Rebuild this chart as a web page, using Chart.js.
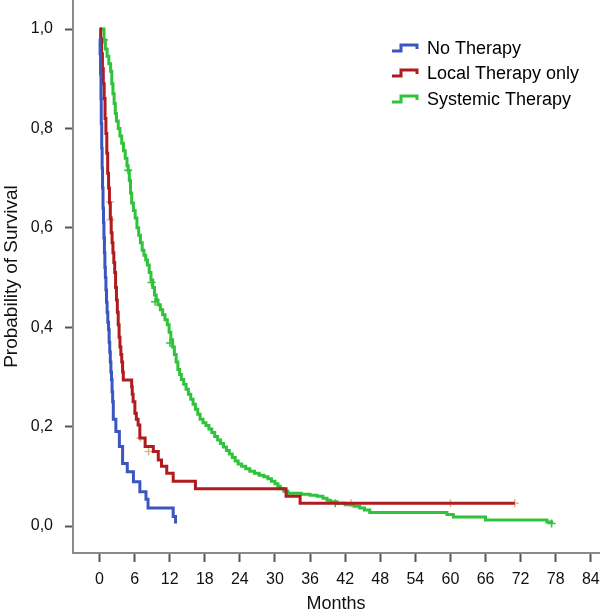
<!DOCTYPE html>
<html>
<head>
<meta charset="utf-8">
<script src="https://cdn.jsdelivr.net/npm/chart.js@4/dist/chart.umd.min.js"></script>
<style>
  html, body { margin: 0; padding: 0; background: #ffffff; }
  #wrap { width: 600px; height: 615px; }
</style>
</head>
<body>
<div id="wrap"><canvas id="c" width="600" height="615"></canvas></div>
<script>
// ---- data ----
const seriesNames = ["No Therapy", "Local Therapy only", "Systemic Therapy"];

const noTherapyMonths = [0, 0.1, 0.18, 0.25, 0.3, 0.38, 0.45, 0.52, 0.6, 0.68, 0.76, 0.84, 0.92, 1.0, 1.1, 1.2, 1.3, 1.42, 1.55, 1.65, 1.75, 1.85, 1.95, 2.05, 2.15, 2.25, 2.36, 2.8, 3.4, 3.95, 4.75, 5.8, 6.9, 7.95, 8.3, 12.6, 13.0];
const noTherapySurv   = [0.98, 0.95, 0.91, 0.86, 0.81, 0.76, 0.72, 0.68, 0.64, 0.61, 0.58, 0.55, 0.52, 0.50, 0.475, 0.45, 0.43, 0.41, 0.395, 0.37, 0.35, 0.33, 0.31, 0.295, 0.27, 0.25, 0.215, 0.19, 0.16, 0.126, 0.109, 0.089, 0.069, 0.054, 0.036, 0.019, 0.005];

const localMonths = [0, 0.2, 0.35, 0.5, 0.65, 0.8, 0.95, 1.1, 1.25, 1.4, 1.55, 1.7, 1.85, 2.0, 2.15, 2.3, 2.45, 2.6, 2.75, 2.9, 3.05, 3.2, 3.35, 3.5, 3.65, 3.8, 3.95, 4.07, 5.5, 5.6, 5.75, 6.05, 6.3, 6.6, 6.9, 7.8, 9.2, 10.05, 10.6, 11.5, 12.6, 16.4, 31.9, 34.3, 71];
const localSurv   = [1.0, 0.98, 0.95, 0.92, 0.89, 0.86, 0.82, 0.79, 0.75, 0.71, 0.68, 0.65, 0.62, 0.59, 0.57, 0.55, 0.53, 0.51, 0.48, 0.455, 0.43, 0.405, 0.38, 0.36, 0.345, 0.33, 0.31, 0.294, 0.28, 0.265, 0.25, 0.227, 0.215, 0.203, 0.177, 0.16, 0.15, 0.133, 0.12, 0.106, 0.09, 0.075, 0.06, 0.046, 0.046];

const systemicMonths = [0, 0.77, 1.0, 1.3, 1.6, 1.9, 2.1, 2.3, 2.5, 2.7, 2.9, 3.2, 3.5, 3.8, 4.1, 4.4, 4.7, 4.9, 5.1, 5.3, 5.5, 5.8, 6.1, 6.4, 6.7, 7.0, 7.3, 7.6, 7.9, 8.2, 8.5, 8.8, 9.1, 9.4, 9.7, 10.0, 10.4, 10.8, 11.2, 11.6, 11.9, 12.2, 12.5, 12.8, 13.1, 13.4, 13.7, 14.0, 14.4, 14.8, 15.2, 15.6, 16.0, 16.4, 16.8, 17.2, 17.7, 18.2, 18.7, 19.2, 19.7, 20.2, 20.7, 21.2, 21.7, 22.2, 22.7, 23.2, 23.7, 24.3, 25.0, 25.7, 26.5, 27.3, 28.1, 28.8, 29.4, 30.0, 30.5, 30.9, 31.5, 32.2, 34.5, 36.0, 37.2, 38.2, 38.9, 39.5, 40.6, 42.0, 43.5, 44.5, 45.3, 46.2, 59.4, 60.5, 66.0, 76.5, 77.3];
const systemicSurv   = [1.0, 0.978, 0.96, 0.945, 0.93, 0.915, 0.89, 0.87, 0.85, 0.83, 0.815, 0.80, 0.785, 0.77, 0.755, 0.74, 0.725, 0.715, 0.695, 0.67, 0.65, 0.635, 0.62, 0.60, 0.585, 0.57, 0.555, 0.545, 0.535, 0.525, 0.51, 0.495, 0.48, 0.465, 0.455, 0.445, 0.435, 0.425, 0.415, 0.405, 0.39, 0.375, 0.36, 0.345, 0.33, 0.315, 0.305, 0.295, 0.285, 0.275, 0.265, 0.255, 0.245, 0.235, 0.225, 0.215, 0.208, 0.202, 0.195, 0.188, 0.18, 0.173, 0.166, 0.159, 0.152, 0.145, 0.138, 0.131, 0.125, 0.12, 0.115, 0.11, 0.106, 0.102, 0.099, 0.095, 0.09, 0.085, 0.08, 0.075, 0.07, 0.066, 0.064, 0.062, 0.060, 0.056, 0.052, 0.049, 0.046, 0.043, 0.04, 0.036, 0.032, 0.027, 0.023, 0.018, 0.012, 0.008, 0.005];

// censored observations
const localCensorMonths = [1.8, 1.85, 7.0, 8.4, 43, 60, 71];
const localCensorSurv   = [0.652, 0.616, 0.177, 0.15, 0.046, 0.046, 0.046];
const systemicCensorMonths = [0.77, 4.9, 8.9, 9.5, 12.05, 40.3, 77.3];
const systemicCensorSurv   = [0.978, 0.716, 0.49, 0.451, 0.368, 0.046, 0.005];

const xTickValues = [0, 6, 12, 18, 24, 30, 36, 42, 48, 54, 60, 66, 72, 78, 84];
const yTickValues = [0, 0.2, 0.4, 0.6, 0.8, 1.0];

const axisTitleX = "Months";
const axisTitleY = "Probability of Survival";

// ---- build ----
const pts = (xs, ys) => xs.map((x, i) => ({ x: x, y: ys[i] }));
const colors = ["#3a56c0", "#b01b1d", "#2fc23b"];
const FONT = "'Liberation Sans', Arial, Helvetica, sans-serif";

const datasets = [
  { label: seriesNames[0], data: pts(noTherapyMonths, noTherapySurv), borderColor: colors[0] },
  { label: seriesNames[1], data: pts(localMonths, localSurv), borderColor: colors[1] },
  { label: seriesNames[2], data: pts(systemicMonths, systemicSurv), borderColor: colors[2] }
].map(d => Object.assign(d, {
  type: 'line', stepped: 'before', borderWidth: 3, pointRadius: 0, fill: false,
  borderCapStyle: 'butt', borderJoinStyle: 'miter', tension: 0, isLegend: true
}));

datasets.push({
  type: 'scatter', label: 'censor-local', data: pts(localCensorMonths, localCensorSurv),
  pointStyle: 'cross', pointRadius: 4, borderColor: '#d9b98c', borderWidth: 1.5, showLine: false
});
datasets.push({
  type: 'scatter', label: 'censor-systemic', data: pts(systemicCensorMonths, systemicCensorSurv),
  pointStyle: 'cross', pointRadius: 4, borderColor: colors[2], borderWidth: 1.5, showLine: false
});

const legendPlugin = {
  id: 'insideLegend',
  afterDraw(chart) {
    const ctx = chart.ctx;
    const rows = [48, 73, 99];
    ctx.save();
    ctx.font = "18px " + FONT;
    ctx.textBaseline = 'middle';
    ctx.textAlign = 'left';
    chart.data.datasets.filter(d => d.isLegend).forEach((d, i) => {
      const y = rows[i];
      ctx.strokeStyle = d.borderColor;
      ctx.lineWidth = 3;
      ctx.lineJoin = 'miter';
      ctx.beginPath();
      ctx.moveTo(392, y + 3);
      ctx.lineTo(401, y + 3);
      ctx.lineTo(401, y - 3);
      ctx.lineTo(417, y - 3);
      ctx.lineTo(417, y + 1);
      ctx.stroke();
      ctx.fillStyle = '#000';
      ctx.fillText(d.label, 427, y + 1);
    });
    ctx.restore();
  }
};

new Chart(document.getElementById('c'), {
  data: { datasets: datasets },
  options: {
    responsive: false,
    animation: false,
    devicePixelRatio: 1,
    layout: { autoPadding: false, padding: { top: 0, right: 1, left: 0, bottom: 0 } },
    plugins: { legend: { display: false }, tooltip: { enabled: false } },
    scales: {
      x: {
        type: 'linear', min: -4.53, max: 85.4,
        afterBuildTicks: s => { s.ticks = xTickValues.map(v => ({ value: v })); },
        afterFit: s => { s.height = 62; s.paddingLeft = 0; s.paddingRight = 0; },
        border: { display: true, color: '#8a8a8a', width: 2 },
        grid: { drawOnChartArea: false, drawTicks: true, tickLength: 9, tickWidth: 2, color: '#555555' },
        ticks: { color: '#111', font: { family: FONT, size: 16 }, padding: 8, maxRotation: 0, autoSkip: false },
        title: { display: true, text: axisTitleX, color: '#111', font: { family: FONT, size: 18 }, padding: { top: 0, bottom: 0 } }
      },
      y: {
        type: 'linear', min: -0.0543, max: 1.0584,
        afterBuildTicks: s => { s.ticks = yTickValues.map(v => ({ value: v })); },
        afterFit: s => { s.width = 73; s.paddingTop = 0; s.paddingBottom = 0; },
        border: { display: true, color: '#8a8a8a', width: 2 },
        grid: { drawOnChartArea: false, drawTicks: true, tickLength: 8, tickWidth: 2, color: '#555555' },
        ticks: {
          color: '#111', font: { family: FONT, size: 16 }, padding: 12, autoSkip: false,
          callback: v => Number(v).toFixed(1).replace('.', ',')
        },
        title: { display: true, text: axisTitleY, color: '#111', font: { family: FONT, size: 19 }, padding: { top: 0, bottom: 0 } }
      }
    }
  },
  plugins: [legendPlugin]
});
</script>
</body>
</html>
